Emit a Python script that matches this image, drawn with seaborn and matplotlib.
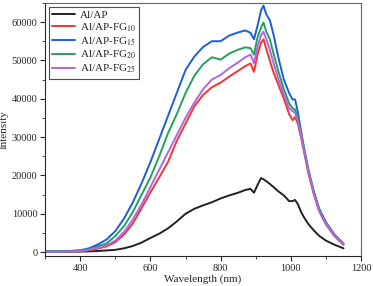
import numpy as np
import pandas as pd
import matplotlib
matplotlib.use('Agg')
import matplotlib.pyplot as plt
from matplotlib.ticker import MultipleLocator
import seaborn as sns

# wavelength grid (nm) shared by all spectra
wavelength = [300, 350, 400, 425, 450, 475, 500, 525, 550, 575, 600, 625, 650, 675,
              700, 725, 750, 775, 800, 825, 850, 870, 885, 895, 905, 915, 922, 930,
              940, 950, 965, 980, 995, 1005, 1012, 1020, 1030, 1040, 1050, 1065,
              1080, 1100, 1125, 1150]

al_ap = [100, 100, 150, 200, 300, 450, 600, 1000, 1600, 2500, 3700, 4800, 6200, 8000,
         10000, 11300, 12200, 13000, 14000, 14800, 15500, 16200, 16500, 15500, 17500,
         19300, 19000, 18500, 17800, 17000, 15800, 14800, 13300, 13300, 13600, 12500,
         10300, 8700, 7300, 5700, 4300, 3000, 1900, 1000]

fg10 = [100, 100, 250, 500, 900, 1500, 2600, 4600, 7500, 11500, 15600, 19500, 23500,
        29000, 33500, 38000, 41000, 43000, 44200, 45800, 47300, 48500, 49200, 47000,
        51500, 54500, 55500, 53000, 50000, 47000, 43500, 40000, 36000, 34400, 35200,
        33500, 29500, 25000, 20500, 15200, 10800, 7200, 4100, 1900]

fg15 = [200, 200, 500, 1000, 2000, 3300, 5500, 8800, 13000, 18000, 23500, 29500, 35500,
        41500, 47500, 51000, 53500, 55000, 55000, 56500, 57300, 57800, 57200, 55500,
        59000, 63000, 64300, 62000, 60500, 57000, 50500, 45000, 41500, 39800, 39800,
        36500, 31000, 26000, 21500, 16000, 11500, 7800, 4500, 2200]

fg20 = [150, 150, 400, 800, 1500, 2300, 4200, 6800, 10500, 15000, 19500, 25000, 31000,
        36000, 41500, 46000, 49000, 50800, 50200, 51800, 52800, 53400, 53200, 51500,
        56000, 58500, 59900, 57500, 55500, 52000, 47000, 42500, 38800, 37500, 37200,
        35000, 30500, 25700, 21200, 15800, 11300, 7600, 4400, 2100]

fg25 = [100, 100, 300, 600, 1100, 1800, 3000, 5300, 8500, 12500, 17000, 21500, 26000,
        30500, 35000, 39000, 42500, 45000, 46200, 48000, 49500, 50800, 51500, 49300,
        53500, 56500, 57500, 55500, 52800, 49500, 45000, 41000, 37500, 36800, 36300,
        34200, 30000, 25500, 21000, 15500, 11000, 7400, 4300, 2000]

labels = ['Al/AP', 'Al/AP-FG$_{10}$', 'Al/AP-FG$_{15}$', 'Al/AP-FG$_{20}$', 'Al/AP-FG$_{25}$']
colors = ['#222222', '#f03535', '#1a5fd9', '#24a05c', '#b066e0']
series = [al_ap, fg10, fg15, fg20, fg25]

sns.set_style('ticks')
plt.rcParams['font.family'] = ['Liberation Serif', 'DejaVu Serif']
plt.rcParams['mathtext.fontset'] = 'stix'

fig = plt.figure(figsize=(3.73, 2.86), dpi=100)
ax = fig.add_axes([0.121, 0.105, 0.847, 0.885])

for lab, col, vals in zip(labels, colors, series):
    sns.lineplot(x=wavelength, y=vals, color=col, label=lab, linewidth=1.4, ax=ax)

ax.set_xlim(300, 1200)
ax.set_ylim(-1000, 65000)
ax.xaxis.set_major_locator(MultipleLocator(200))
ax.xaxis.set_minor_locator(MultipleLocator(100))
ax.yaxis.set_major_locator(MultipleLocator(10000))
ax.yaxis.set_minor_locator(MultipleLocator(5000))
ax.tick_params(which='major', direction='out', length=3.5, width=0.8, labelsize=7.5, pad=2)
ax.tick_params(which='minor', direction='out', length=2, width=0.6)
ax.set_xlabel('Wavelength (nm)', fontsize=8, labelpad=1)
ax.set_ylabel('Intensity', fontsize=8, labelpad=2)
for side in ['top', 'right']:
    ax.spines[side].set_color('#666666')

leg = ax.legend(loc='upper left', fontsize=8, frameon=True, fancybox=False,
                handlelength=2.0, borderpad=0.3, labelspacing=0.12,
                handletextpad=0.45, borderaxespad=0.35)
leg.get_frame().set_edgecolor('#222222')
leg.get_frame().set_linewidth(0.8)

fig.savefig('out.png', dpi=100)
